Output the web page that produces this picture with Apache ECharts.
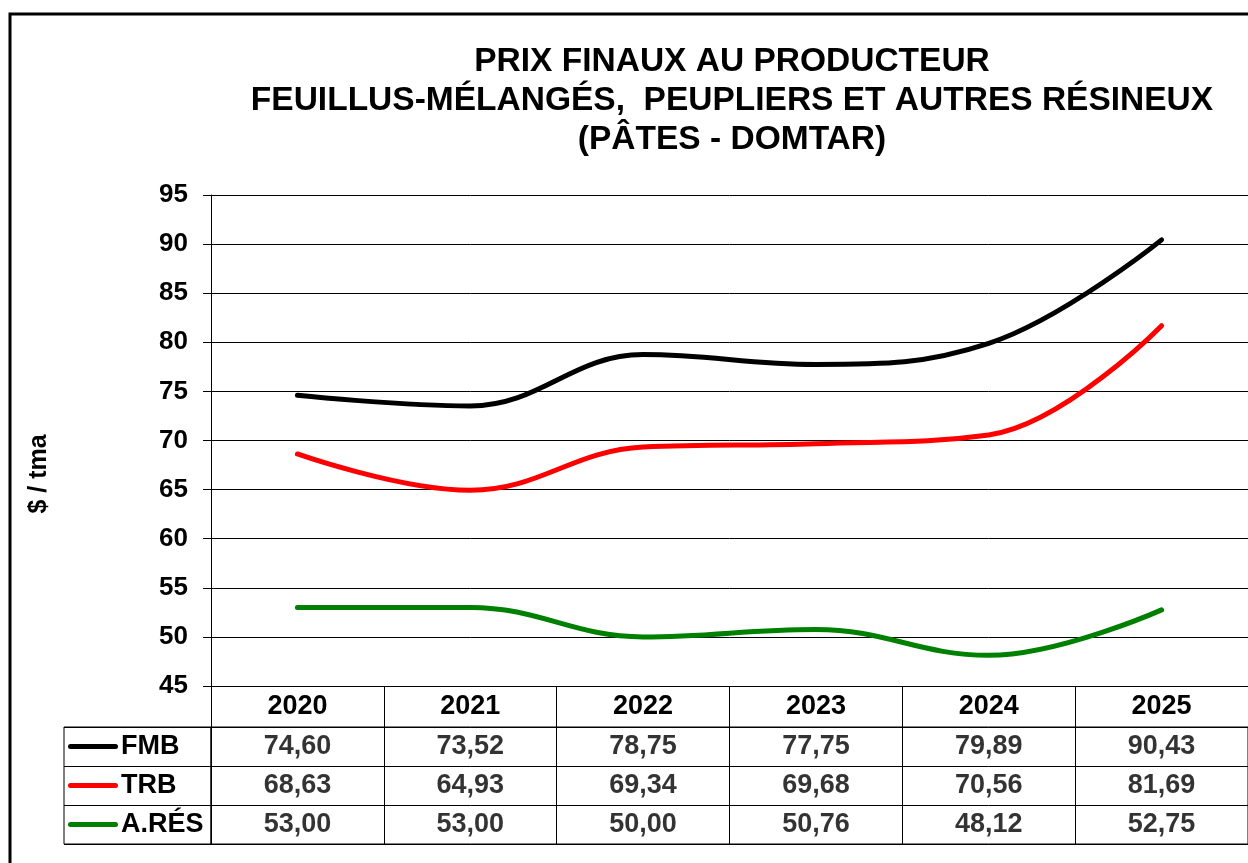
<!DOCTYPE html>
<html>
<head>
<meta charset="utf-8">
<script src="https://cdn.jsdelivr.net/npm/echarts@6/dist/echarts.min.js"></script>
<style>
html,body{margin:0;padding:0;background:#fff;}
#c{width:1248px;height:863px;}
</style>
</head>
<body>
<div id="c"></div>
<script>
const years = ['2020', '2021', '2022', '2023', '2024', '2025'];
const seriesNames = ['FMB', 'TRB', 'A.RÉS'];
const seriesColors = ['#000000', '#ff0000', '#008000'];
const fmb = [74.60, 73.52, 78.75, 77.75, 79.89, 90.43];
const trb = [68.63, 64.93, 69.34, 69.68, 70.56, 81.69];
const ares = [53.00, 53.00, 50.00, 50.76, 48.12, 52.75];
const titleLines = ['PRIX FINAUX AU PRODUCTEUR', 'FEUILLUS-MÉLANGÉS,  PEUPLIERS ET AUTRES RÉSINEUX', '(PÂTES - DOMTAR)'];
const yName = '$ / tma';
const yMin = 45, yMax = 95, yStep = 5;

const F = '"Liberation Sans", Arial, Helvetica, sans-serif';
const allVals = [fmb, trb, ares];
const fmt = v => v.toFixed(2).replace('.', ',');

const rich = { n: { fontSize: 27, fontWeight: 'bold', fontFamily: F, color: '#000', padding: [0, 0, 0, 3] } };
seriesColors.forEach((c, i) => {
  rich['k' + i] = { width: 50, height: 5, backgroundColor: c, borderRadius: 2.5 };
});

const tableData = [];
allVals.forEach((arr, i) => arr.forEach((v, j) => tableData.push([j, i, v])));

const chart = echarts.init(document.getElementById('c'), null, { renderer: 'canvas' });
chart.setOption({
  backgroundColor: '#fff',
  animation: false,
  title: {
    text: titleLines.join('\n'),
    left: 727, top: 37, textAlign: 'center',
    textStyle: { fontSize: 33.5, fontWeight: 'bold', fontFamily: F, color: '#000', lineHeight: 39 }
  },
  grid: [
    { left: 211, top: 195, width: 1041, height: 491 },
    { left: 64, top: 727, width: 147, height: 117, show: true, borderColor: '#000', borderWidth: 1 },
    { left: 211, top: 727, width: 1041, height: 117, show: true, borderColor: '#000', borderWidth: 1 }
  ],
  xAxis: [
    { type: 'category', gridIndex: 0, data: years, boundaryGap: true,
      axisLine: { show: true, lineStyle: { color: '#000', width: 1 } },
      axisTick: { show: true, length: 41, interval: 0, lineStyle: { color: '#000', width: 1 } },
      axisLabel: { interval: 0, margin: 7, fontSize: 27, fontWeight: 'bold', fontFamily: F, color: '#000' },
      splitLine: { show: false } },
    { type: 'category', gridIndex: 1, data: [''], axisLine: { show: false }, axisTick: { show: false }, axisLabel: { show: false }, splitLine: { show: false } },
    { type: 'category', gridIndex: 2, data: years, axisLine: { show: false }, axisTick: { show: false }, axisLabel: { show: false },
      splitLine: { show: true, interval: 0, lineStyle: { color: '#000', width: 1 } } }
  ],
  yAxis: [
    { type: 'value', gridIndex: 0, min: yMin, max: yMax, interval: yStep,
      axisLine: { show: true, lineStyle: { color: '#000', width: 1 } },
      axisTick: { show: true, length: 8, lineStyle: { color: '#000', width: 1 } },
      splitLine: { show: true, lineStyle: { color: '#000', width: 1 } },
      axisLabel: { margin: 23, fontSize: 26, fontWeight: 'bold', fontFamily: F, color: '#000' } },
    { type: 'category', gridIndex: 1, data: seriesNames, inverse: true,
      axisLine: { show: false }, axisTick: { show: false },
      splitLine: { show: true, interval: 0, lineStyle: { color: '#000', width: 1 } },
      axisLabel: { inside: true, margin: 4, interval: 0, formatter: (v, i) => '{k' + i + '|}{n|' + v + '}', rich: rich } },
    { type: 'category', gridIndex: 2, data: seriesNames, inverse: true,
      axisLine: { show: false }, axisTick: { show: false }, axisLabel: { show: false },
      splitLine: { show: true, interval: 0, lineStyle: { color: '#000', width: 1 } } }
  ],
  series: allVals.map((arr, i) => ({
    name: seriesNames[i], type: 'line', xAxisIndex: 0, yAxisIndex: 0,
    data: arr, smooth: 0.4, symbol: 'none', z: 3,
    lineStyle: { color: seriesColors[i], width: 5, cap: 'round' }
  })).concat([{
    type: 'scatter', xAxisIndex: 2, yAxisIndex: 2, symbolSize: 1, silent: true,
    itemStyle: { color: 'rgba(0,0,0,0)' },
    data: tableData,
    label: { show: true, position: 'inside', formatter: p => fmt(p.value[2]),
      fontSize: 27, fontWeight: 'bold', fontFamily: F, color: '#000' }
  }]),
  graphic: [
    { type: 'rect', shape: { x: 10, y: 14, width: 1400, height: 1000 }, style: { fill: 'none', stroke: '#000', lineWidth: 3 }, z: 100, silent: true },
    { type: 'text', x: 39, y: 474, rotation: Math.PI / 2,
      style: { text: yName, fontSize: 25, fontWeight: 'bold', fontFamily: F, fill: '#000', align: 'center', verticalAlign: 'middle' } }
  ]
});
</script>
</body>
</html>
